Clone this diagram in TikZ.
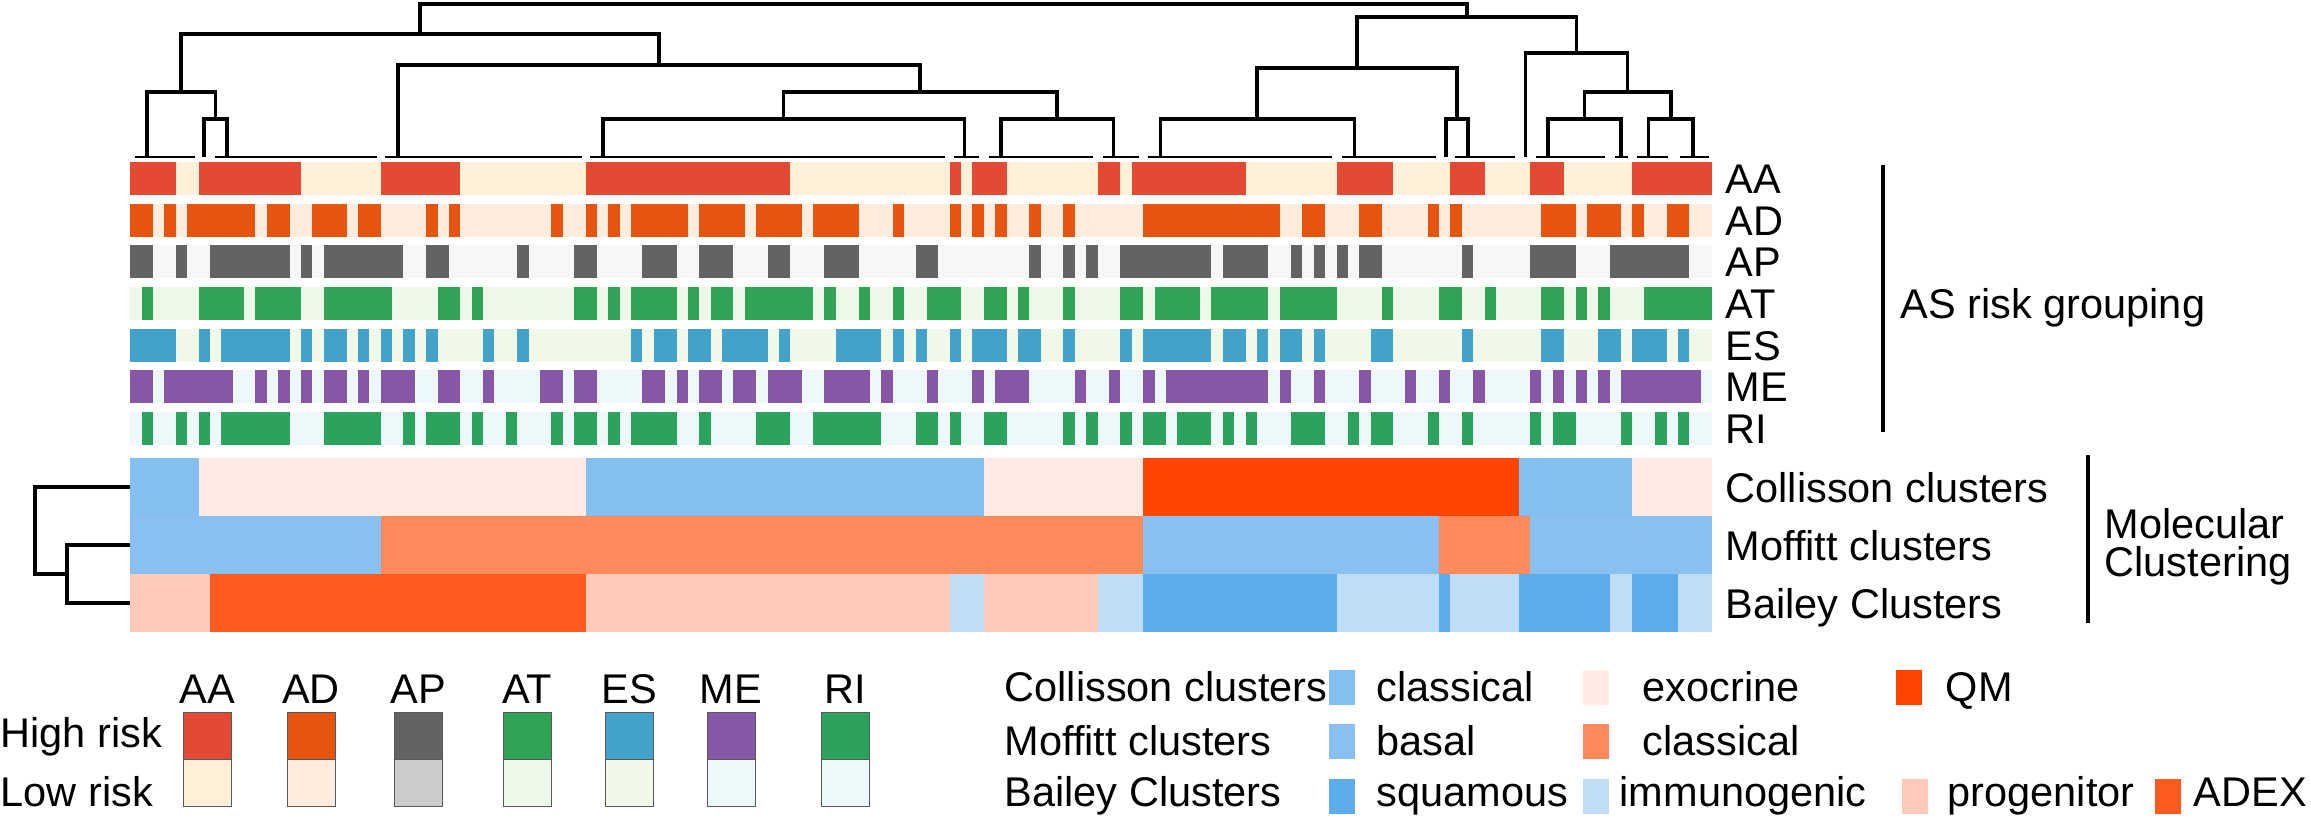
\documentclass[tikz,border=0pt]{standalone}
\usepackage{fontspec}
\setmainfont{Liberation Sans}
\usetikzlibrary{positioning}

% risk colours
\definecolor{aahigh}{HTML}{E34A33}
\definecolor{aalow}{HTML}{FEF0D9}
\definecolor{adhigh}{HTML}{E6550D}
\definecolor{adlow}{HTML}{FEEDDE}
\definecolor{aphigh}{HTML}{636363}
\definecolor{aplow}{HTML}{F7F7F7}
\definecolor{apkey}{HTML}{CCCCCC}
\definecolor{athigh}{HTML}{31A354}
\definecolor{atlow}{HTML}{EDF8E9}
\definecolor{eshigh}{HTML}{43A2CA}
\definecolor{eslow}{HTML}{F0F9E8}
\definecolor{mehigh}{HTML}{8856A7}
\definecolor{melow}{HTML}{EDF8FB}
\definecolor{rihigh}{HTML}{2CA25F}
\definecolor{rilow}{HTML}{EDF8FB}
% cluster colours
\definecolor{colclassical}{HTML}{84C0EF}
\definecolor{colexocrine}{HTML}{FEECE4}
\definecolor{colqm}{HTML}{FF4500}
\definecolor{mofbasal}{HTML}{8AC0F0}
\definecolor{mofclassical}{HTML}{FF8A5C}
\definecolor{baisquamous}{HTML}{5DADEC}
\definecolor{baiimmuno}{HTML}{BFDEF6}
\definecolor{baiprogenitor}{HTML}{FDCBB8}
\definecolor{baiadex}{HTML}{FF5A1F}

% left edge of heatmap column #1
\newcommand{\hmx}[1]{130.3+11.38*#1}

\begin{document}
\begin{tikzpicture}[x=0.01cm, y=-0.01cm,
    lbl/.style={font=\fontsize{11.8}{14}\selectfont, inner sep=0pt},
    dendro/.style={line width=0.9pt},
    leafline/.style={line width=0.65pt},
    groupline/.style={line width=1pt},
    keybox/.style={draw=black!65, line width=0.4pt, minimum width=0.48cm,
      minimum height=0.47cm, inner sep=0pt, anchor=north west},
    keysq/.style={minimum width=0.26cm, minimum height=0.35cm, inner sep=0pt,
      anchor=north west}]
  \useasboundingbox (0,0) rectangle (2311,821);

  % Dendrogram over the samples
  \foreach \xa/\ya/\xb/\yb/\h in {204/157/227/157/119, 147/157/215.5/119/92,
      603/157/964.7/157/119, 1001/157/1113.4/157/119, 783.5/119/1057/119/92,
      398/157/920/92/65, 181/92/659/65/34,
      1160.4/157/1354.2/157/119, 1446/157/1468/157/119, 1257/119/1457/119/68,
      1548/157/1621/157/119, 1648.6/157/1693/157/119, 1584.5/119/1671/119/92,
      1525.8/157/1627.5/92/53, 1357/68/1576.6/53/17, 420/34/1467/17/4}
    \draw[dendro] (\xa,\ya) |- (\xb,\h) -- (\xb,\yb);
  \foreach \a/\b in {0.4/5.65, 7.4/21.7, 22.4/39.7, 40.4/71.6, 72.4/74.6,
      75.5/84.6, 85.5/88.65, 89.4/105.6, 106.5/114.7, 116.4/121.7,
      123.5/129.6, 130.5/131.6, 132.4/135.1, 136.2/138.7}
    \draw[leafline] ({\hmx{\a}},157) -- ({\hmx{\b}},157);

  % AS risk rows
  \fill[aalow] ({\hmx{0}},162) rectangle ({\hmx{139}},195);
  \foreach \a/\b in {0/4, 6/15, 22/29, 40/58, 72/73, 74/77, 85/87, 88/98,
      106/111, 116/119, 123/126, 132/139}
    \fill[aahigh] ({\hmx{\a}},162) rectangle ({\hmx{\b}},195);
  \fill[adlow] ({\hmx{0}},203.7) rectangle ({\hmx{139}},236.7);
  \foreach \a/\b in {0/2, 3/4, 5/11, 12/14, 16/19, 20/22, 26/27, 28/29, 37/38,
      40/41, 42/43, 44/49, 50/54, 55/59, 60/64, 67/68, 72/73, 74/75, 76/77,
      79/80, 82/83, 89/101, 103/105, 108/110, 114/115, 116/117, 124/127,
      128/131, 132/133, 135/137}
    \fill[adhigh] ({\hmx{\a}},203.7) rectangle ({\hmx{\b}},236.7);
  \fill[aplow] ({\hmx{0}},245.3) rectangle ({\hmx{139}},278.3);
  \foreach \a/\b in {0/2, 4/5, 7/14, 15/16, 17/24, 26/28, 34/35, 39/41, 45/48,
      50/53, 56/58, 61/64, 69/71, 79/80, 82/83, 84/85, 87/95, 96/100, 102/103,
      104/105, 106/107, 108/110, 117/118, 123/127, 130/137}
    \fill[aphigh] ({\hmx{\a}},245.3) rectangle ({\hmx{\b}},278.3);
  \fill[atlow] ({\hmx{0}},287) rectangle ({\hmx{139}},320);
  \foreach \a/\b in {1/2, 6/10, 11/15, 17/23, 27/29, 30/31, 39/41, 42/43,
      44/48, 49/50, 51/53, 54/60, 61/62, 64/65, 67/68, 70/73, 75/77, 78/79,
      82/83, 87/89, 90/94, 95/100, 101/106, 110/111, 115/117, 119/120,
      124/126, 127/128, 129/130, 133/139}
    \fill[athigh] ({\hmx{\a}},287) rectangle ({\hmx{\b}},320);
  \fill[eslow] ({\hmx{0}},328.7) rectangle ({\hmx{139}},361.7);
  \foreach \a/\b in {0/4, 6/7, 8/14, 15/16, 17/19, 20/21, 22/23, 24/25, 26/27,
      31/32, 34/35, 44/45, 46/48, 49/51, 52/56, 57/58, 62/66, 67/68, 69/70,
      72/73, 74/77, 78/80, 82/83, 87/88, 89/95, 96/98, 99/100, 101/103,
      104/105, 109/111, 117/118, 124/126, 129/131, 132/135, 136/137}
    \fill[eshigh] ({\hmx{\a}},328.7) rectangle ({\hmx{\b}},361.7);
  \fill[melow] ({\hmx{0}},370.3) rectangle ({\hmx{139}},403.3);
  \foreach \a/\b in {0/2, 3/9, 11/12, 13/14, 15/16, 17/19, 20/21, 22/25, 27/29,
      31/32, 36/38, 39/41, 45/47, 48/49, 50/52, 53/55, 56/59, 61/65, 66/67,
      70/71, 74/75, 76/79, 83/84, 86/87, 89/90, 91/100, 101/102, 104/105,
      108/109, 112/113, 115/116, 118/119, 123/124, 125/126, 127/128, 129/130,
      131/138}
    \fill[mehigh] ({\hmx{\a}},370.3) rectangle ({\hmx{\b}},403.3);
  \fill[rilow] ({\hmx{0}},412) rectangle ({\hmx{139}},445);
  \foreach \a/\b in {1/2, 4/5, 6/7, 8/14, 17/22, 24/25, 26/29, 30/31, 33/34,
      37/38, 39/41, 42/43, 44/48, 50/51, 55/58, 60/66, 69/71, 72/73, 75/77,
      82/83, 84/85, 87/88, 89/91, 92/95, 96/97, 98/99, 102/105, 107/108,
      109/111, 114/115, 117/118, 123/124, 125/127, 131/132, 134/135, 136/137}
    \fill[rihigh] ({\hmx{\a}},412) rectangle ({\hmx{\b}},445);

  % Molecular rows
  \foreach \a/\b/\c in {0/6/colclassical, 6/40/colexocrine, 40/75/colclassical,
      75/89/colexocrine, 89/122/colqm, 122/132/colclassical, 132/139/colexocrine}
    \fill[\c] ({\hmx{\a}},458) rectangle ({\hmx{\b}},516);
  \foreach \a/\b/\c in {0/22/mofbasal, 22/89/mofclassical, 89/115/mofbasal,
      115/123/mofclassical, 123/139/mofbasal}
    \fill[\c] ({\hmx{\a}},516) rectangle ({\hmx{\b}},574);
  \foreach \a/\b/\c in {0/7/baiprogenitor, 7/40/baiadex, 40/72/baiprogenitor,
      72/75/baiimmuno, 75/85/baiprogenitor, 85/89/baiimmuno,
      89/106/baisquamous, 106/115/baiimmuno, 115/116/baisquamous,
      116/122/baiimmuno, 122/130/baisquamous, 130/132/baiimmuno,
      132/136/baisquamous, 136/139/baiimmuno}
    \fill[\c] ({\hmx{\a}},574) rectangle ({\hmx{\b}},632);

  % Dendrogram beside the molecular rows
  \draw[dendro] (130,487) -| (35,574) -- (67,574);
  \draw[dendro] (130,545) -| (67,603) -- (130,603);

  % Row labels
  \foreach \name/\y in {AA/162, AD/203.7, AP/245.3, AT/287, ES/328.7,
      ME/370.3, RI/412}
    \node[lbl, anchor=base west] (row\name) at (1725,\y+31.3) {\name};
  \node[lbl, anchor=base west] (rowCol) at (1725,502) {Collisson clusters};
  \node[lbl, anchor=base west] (rowMof) at (1725,560) {Moffitt clusters};
  \node[lbl, anchor=base west] (rowBai) at (1725,618) {Bailey Clusters};

  % Group labels
  \draw[groupline] (1883,165) -- (1883,432);
  \node[lbl, anchor=base west] (asgroup) at (1900,318) {AS risk grouping};
  \draw[groupline] (2088,455) -- (2088,623);
  \node[lbl, anchor=base west] (molA) at (2104,538) {Molecular};
  \node[lbl, anchor=base west] (molB) at (2104,576) {Clustering};

  % Legend: risk
  \node[lbl, anchor=base west] (highrisk) at (0,747) {High risk};
  \node[lbl, anchor=base west] (lowrisk) at (0,806) {Low risk};
  \foreach \name/\hi/\lo/\x in {AA/aahigh/aalow/183, AD/adhigh/adlow/287,
      AP/aphigh/apkey/394, AT/athigh/atlow/503, ES/eshigh/eslow/605,
      ME/mehigh/melow/707, RI/rihigh/rilow/821} {
    \node[keybox, fill=\hi] (hi\name) at (\x,712) {};
    \node[keybox, fill=\lo] (lo\name) at (\x,759) {};
    \node[lbl, anchor=base] (key\name) at (\x+24,703) {\name};
  }

  % Legend: clusters
  \node[lbl, anchor=base west] (keyCol) at (1004,701) {Collisson clusters};
  \node[lbl, anchor=base west] (keyMof) at (1004,755) {Moffitt clusters};
  \node[lbl, anchor=base west] (keyBai) at (1004,806) {Bailey Clusters};
  \node[keysq, fill=colclassical] (sqColCla) at (1328,669) {};
  \node[lbl, anchor=base west] (txColCla) at (1376,701) {classical};
  \node[keysq, fill=colexocrine] (sqColExo) at (1582,669) {};
  \node[lbl, anchor=base west] (txColExo) at (1642,701) {exocrine};
  \node[keysq, fill=colqm] (sqColQM) at (1895,669) {};
  \node[lbl, anchor=base west] (txColQM) at (1945,701) {QM};
  \node[keysq, fill=mofbasal] (sqMofBas) at (1328,723) {};
  \node[lbl, anchor=base west] (txMofBas) at (1376,755) {basal};
  \node[keysq, fill=mofclassical] (sqMofCla) at (1582,723) {};
  \node[lbl, anchor=base west] (txMofCla) at (1642,755) {classical};
  \node[keysq, fill=baisquamous] (sqBaiSqu) at (1328,778) {};
  \node[lbl, anchor=base west] (txBaiSqu) at (1376,806) {squamous};
  \node[keysq, fill=baiimmuno] (sqBaiImm) at (1582,778) {};
  \node[lbl, anchor=base west] (txBaiImm) at (1619,806) {immunogenic};
  \node[keysq, fill=baiprogenitor] (sqBaiPro) at (1901,778) {};
  \node[lbl, anchor=base west] (txBaiPro) at (1947,806) {progenitor};
  \node[keysq, fill=baiadex] (sqBaiAdx) at (2154,778) {};
  \node[lbl, anchor=base west] (txBaiAdx) at (2193,806) {ADEX};
\end{tikzpicture}
\end{document}
